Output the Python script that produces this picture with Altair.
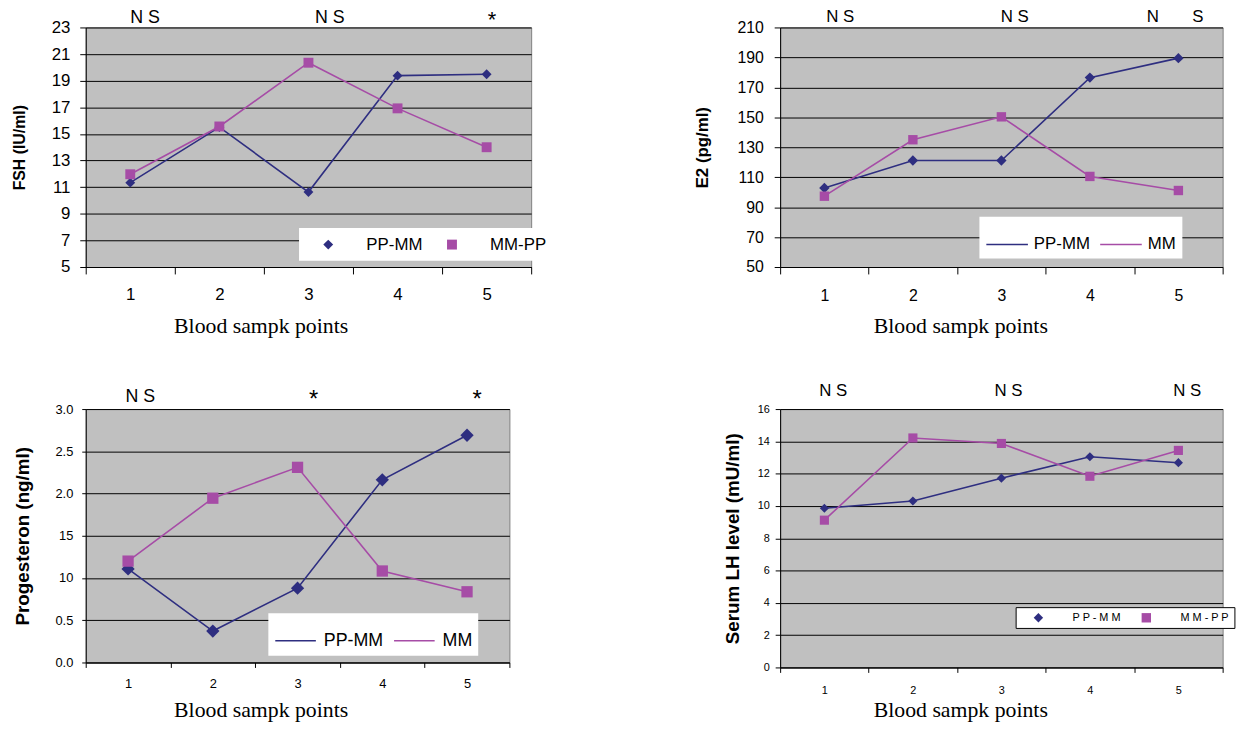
import altair as alt
import pandas as pd

# ---------------- data ----------------
sample_points = [1, 2, 3, 4, 5]
x_tick_labels = ["1", "2", "3", "4", "5"]
x_title = "Blood sampk points"

fsh_series = ["PP-MM", "MM-PP"]
fsh_pp_mm = [11.34, 15.51, 10.63, 19.38, 19.48]
fsh_mm_pp = [11.97, 15.56, 20.35, 16.92, 14.0]
fsh_ticks = [5, 7, 9, 11, 13, 15, 17, 19, 21, 23]
fsh_sig_pos = [1.165, 3.24, 5.06]
fsh_sig_text = ["N S", "N S", "*"]

e2_series = ["PP-MM", "MM"]
e2_pp_mm = [102.8, 121.1, 121.1, 176.5, 189.5]
e2_mm = [97.3, 135.0, 150.3, 110.5, 101.1]
e2_ticks = [50, 70, 90, 110, 130, 150, 170, 190, 210]
e2_sig_pos = [1.18, 3.15, 4.71, 5.22]
e2_sig_text = ["N S", "N S", "N", "S"]

prog_series = ["PP-MM", "MM"]
prog_pp_mm = [1.107, 0.372, 0.88, 2.163, 2.69]
prog_mm = [1.20, 1.945, 2.31, 1.083, 0.837]
prog_ticks = [0, 0.5, 1, 1.5, 2, 2.5, 3]
prog_tick_labels = ["0.0", "0.5", "10", "15", "2.0", "2.5", "3.0"]
prog_sig_pos = [1.145, 3.19, 5.12]
prog_sig_text = ["N S", "*", "*"]

lh_series = ["PP-MM", "MM-PP"]
lh_pp_mm = [9.86, 10.31, 11.72, 13.05, 12.68]
lh_mm_pp = [9.12, 14.21, 13.87, 11.84, 13.44]
lh_ticks = [0, 2, 4, 6, 8, 10, 12, 14, 16]
lh_sig_pos = [1.1, 3.08, 5.1]
lh_sig_text = ["N S", "N S", "N S"]

# ---------------- style ----------------
NAVY = "#2E2E80"
MAGENTA = "#A64CA6"
PLOT_BG = "#C0C0C0"
SANS = "Liberation Sans, Arial, sans-serif"
SERIF = "Liberation Serif, Times New Roman, serif"
NBSP = "\u00a0"


def make_df(series, a, b):
    rows = []
    for name, vals in zip(series, [a, b]):
        for p, v in zip(sample_points, vals):
            rows.append({"point": p, "series": name, "value": v})
    return pd.DataFrame(rows)


def panel(df, series, y_domain, y_ticks, y_title, sig_pos, sig_text, st, y_label_expr=None):
    W, H = st["w"], st["h"]
    band = W / 5.0
    colors = [NAVY, MAGENTA]
    shapes = ["diamond", "square"]
    xscale = alt.Scale(domain=[0.5, 5.5], nice=False, zero=False)
    yscale = alt.Scale(domain=y_domain, nice=False, zero=False)
    # ticks on the category boundaries, labels centred in each category
    x_lab_expr = "datum.value > 1 ? " + str(x_tick_labels) + "[round(datum.value - 1.5)] : ''"

    x_axis = alt.Axis(
        values=[0.5, 1.5, 2.5, 3.5, 4.5, 5.5], tickCount=40, labelExpr=x_lab_expr,
        labelOffset=-band / 2.0,
        tickSize=st["xtick"], labelPadding=st["xlabpad"], labelFont=SANS, labelFontSize=st["xlab"],
        labelColor="black", domainColor="black", tickColor="black", grid=False,
        labelOverlap=False, labelFlush=False, labelBound=False,
        title=x_title, titleFont=SERIF, titleFontSize=st["xtitle"], titleFontWeight="normal",
        titleColor="black", titleX=st["xtx"], titleY=st["xty"], titleAlign="center",
        titleBaseline="alphabetic", titleAngle=0,
    )
    yargs = dict(
        values=y_ticks, tickCount=40, tickSize=st["ytick"], labelPadding=st["ylabpad"], labelFont=SANS,
        labelFontSize=st["ylab"], labelColor="black", domainColor="black", tickColor="black",
        grid=True, gridColor="black", gridWidth=1, gridOpacity=1, labelOverlap=False,
        labelFlush=False, labelBound=False,
        title=y_title, titleFont=SANS, titleFontSize=st["ytitle"], titleFontWeight="bold",
        titleColor="black", titleX=st["ytx"], titleBaseline="middle", titleAlign="center",
        titleAngle=270,
    )
    if y_label_expr:
        yargs["labelExpr"] = y_label_expr
    else:
        yargs["format"] = "d"
    y_axis = alt.Axis(**yargs)

    legargs = dict(
        orient="none", legendX=st["legX"], legendY=st["legY"], direction="horizontal",
        title=None, fillColor="white", padding=st["leg_pad"], symbolSize=st["leg_size"],
        symbolOffset=st["leg_symoff"], labelOffset=st["leg_gap"], columnPadding=st["leg_colpad"],
        labelFont=SANS, labelFontSize=st["leg_fs"], labelColor="black", zindex=2,
    )
    if st.get("leg_stroke"):
        legargs["strokeColor"] = st["leg_stroke"]
    if st.get("leg_expr"):
        legargs["labelExpr"] = st["leg_expr"]
    leg = alt.Legend(**legargs)

    cscale = alt.Scale(domain=series, range=colors)
    base = alt.Chart(df)
    X = alt.X("point:Q", scale=xscale, axis=x_axis)
    Y = alt.Y("value:Q", scale=yscale, axis=y_axis)
    Xp = alt.X("point:Q", scale=xscale)
    Yp = alt.Y("value:Q", scale=yscale)
    layers = []
    if st["leg_kind"] == "line":
        layers.append(
            base.mark_line(strokeWidth=st["lw"]).encode(
                x=X, y=Y, color=alt.Color("series:N", scale=cscale, legend=leg)
            )
        )
        for name, c, shp, size in zip(series, colors, shapes, [st["dsize"], st["ssize"]]):
            layers.append(
                base.transform_filter(alt.datum.series == name)
                .mark_point(filled=True, opacity=1, shape=shp, size=size, color=c, strokeWidth=0)
                .encode(x=Xp, y=Yp)
            )
    else:
        for i, (name, c) in enumerate(zip(series, colors)):
            layers.append(
                base.transform_filter(alt.datum.series == name)
                .mark_line(strokeWidth=st["lw"], color=c)
                .encode(x=X if i == 0 else Xp, y=Y if i == 0 else Yp)
            )
        layers.append(
            base.mark_point(filled=True, opacity=1, size=st["msize"], strokeWidth=0).encode(
                x=Xp, y=Yp,
                color=alt.Color("series:N", scale=cscale, legend=leg),
                shape=alt.Shape("series:N", scale=alt.Scale(domain=series, range=shapes), legend=leg),
            )
        )

    sig = pd.DataFrame({"pos": sig_pos, "text": sig_text})
    layers.append(
        alt.Chart(sig).transform_filter(alt.datum.text != "*")
        .mark_text(font=SANS, fontSize=st["ns_fs"], baseline="alphabetic", align="center", color="black")
        .encode(x=alt.X("pos:Q", scale=xscale), y=alt.value(st["ns_y"]), text="text:N")
    )
    layers.append(
        alt.Chart(sig).transform_filter(alt.datum.text == "*")
        .mark_text(font=SANS, fontSize=st["star_fs"], baseline="alphabetic", align="center", color="black")
        .encode(x=alt.X("pos:Q", scale=xscale), y=alt.value(st["star_y"]), text="text:N")
    )
    return alt.layer(*layers).properties(
        width=W, height=H,
        view=alt.ViewBackground(fill=PLOT_BG, stroke="#808080", strokeWidth=1),
    )


ROW1_TOP = 26.7
ROW_STEP = 385.5
ROW2_TOP = ROW1_TOP + ROW_STEP
LEFT = 86.5
COL2 = 788.0

st1 = dict(w=450, h=242, xtick=7, xlab=17, xlabpad=13, xtitle=22, xtx=263.2 - LEFT, xty=66.3,
           ytick=6, ylabpad=10, ylab=17, ytitle=16, ytx=19.6 - LEFT, lw=1.6, msize=100,
           ns_fs=18, ns_y=-4.0, star_fs=22, star_y=0,
           leg_kind="marker", leg_size=100, leg_symoff=13,
           legX=302 - LEFT, legY=229.3 - ROW1_TOP, leg_pad=8, leg_gap=30, leg_colpad=8, leg_fs=17)
st2 = dict(w=447, h=242, xtick=7, xlab=16, xlabpad=14, xtitle=22, xtx=970 - COL2, xty=66.3,
           ytick=6, ylabpad=11, ylab=16, ytitle=17, ytx=709.5 - COL2, lw=1.6, dsize=110, ssize=90,
           ns_fs=17, ns_y=-6.0, star_fs=22, star_y=0,
           leg_kind="line", leg_size=42 * 42, leg_symoff=0,
           legX=989.3 - COL2, legY=218 - ROW1_TOP, leg_pad=6, leg_gap=5, leg_colpad=7, leg_fs=17,
           leg_expr="datum.label == 'MM' ? 'MM" + NBSP * 8 + "' : datum.label")
st3 = dict(w=428, h=256, xtick=5, xlab=13, xlabpad=10, xtitle=22, xtx=263.2 - LEFT, xty=54.8,
           ytick=4, ylabpad=9, ylab=13, ytitle=19, ytx=22.3 - LEFT, lw=1.6, dsize=180, ssize=130,
           ns_fs=18, ns_y=-7.2, star_fs=24, star_y=-2.2,
           leg_kind="line", leg_size=41 * 41, leg_symoff=0,
           legX=271 - LEFT, legY=618.5 - ROW2_TOP, leg_pad=6, leg_gap=7, leg_colpad=8, leg_fs=18,
           leg_expr="datum.label == 'MM' ? 'MM" + NBSP * 8 + "' : datum.label")
st4 = dict(w=447, h=261, xtick=5, xlab=11, xlabpad=12, xtitle=22, xtx=970 - COL2, xty=49.8,
           ytick=5, ylabpad=6, ylab=11, ytitle=19, ytx=739.8 - COL2, lw=1.6, msize=85,
           ns_fs=17, ns_y=-13.2, star_fs=22, star_y=0,
           leg_kind="marker", leg_size=90, leg_symoff=12.5,
           legX=1025.9 - COL2, legY=612.3 - ROW2_TOP, leg_pad=5, leg_gap=29, leg_colpad=7, leg_fs=11,
           leg_stroke="black", leg_expr="join(split(datum.label, ''), ' ')")

prog_expr = " : ".join(
    f"datum.value == {v} ? '{lab}'" for v, lab in zip(prog_ticks, prog_tick_labels)
) + " : ''"

p1 = panel(make_df(fsh_series, fsh_pp_mm, fsh_mm_pp), fsh_series, [5, 23], fsh_ticks,
           "FSH (IU/ml)", fsh_sig_pos, fsh_sig_text, st1)
p2 = panel(make_df(e2_series, e2_pp_mm, e2_mm), e2_series, [50, 210], e2_ticks,
           "E2 (pg/ml)", e2_sig_pos, e2_sig_text, st2)
p3 = panel(make_df(prog_series, prog_pp_mm, prog_mm), prog_series, [0, 3], prog_ticks,
           "Progesteron (ng/ml)", prog_sig_pos, prog_sig_text, st3, y_label_expr=prog_expr)
p4 = panel(make_df(lh_series, lh_pp_mm, lh_mm_pp), lh_series, [0, 16], lh_ticks,
           "Serum LH level (mU/ml)", lh_sig_pos, lh_sig_text, st4)

chart = (
    alt.concat(
        p1, p2, p3, p4, columns=2, bounds="flush",
        spacing={"row": ROW_STEP - max(st1["h"], st2["h"]),
                 "column": COL2 - LEFT - max(st1["w"], st3["w"])},
    )
    .resolve_scale(color="independent", shape="independent")
    .resolve_legend(color="independent", shape="independent")
    .properties(padding={"left": 2.5, "top": -5, "right": 0, "bottom": 0}, background="white")
    .configure_legend(strokeWidth=1)
)

chart.save("out.html", embed_options={"renderer": "svg", "actions": False})
